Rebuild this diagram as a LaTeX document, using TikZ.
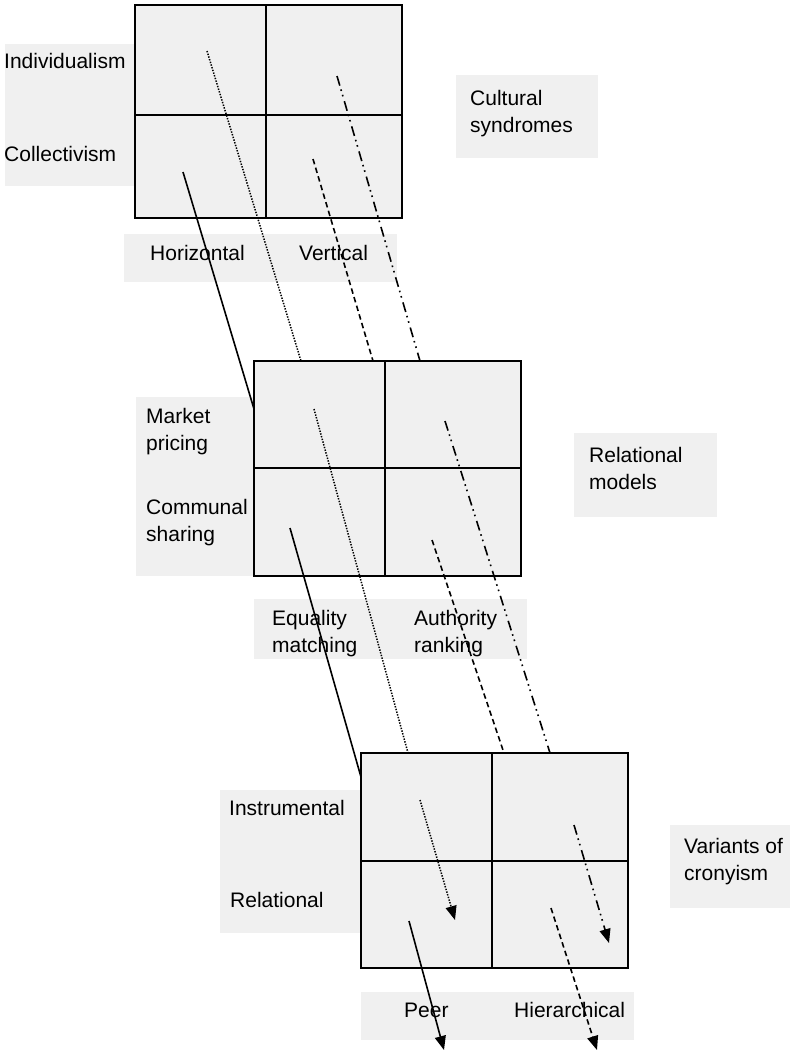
\documentclass[tikz,border=0pt]{standalone}
\usepackage{fontspec}
\setmainfont{Liberation Sans}
\usetikzlibrary{arrows.meta}
\definecolor{bg}{HTML}{F0F0F0}
\begin{document}
\begin{tikzpicture}[x=1pt,y=-1pt,
  lbl/.style={font=\fontsize{21}{27}\selectfont, inner sep=0pt, anchor=base west},
  shade/.style={fill=bg},
  gridbox/.style={draw, line width=2pt, fill=bg},
  divider/.style={line width=2pt},
  solidc/.style={line width=1.6pt},
  dotc/.style={line width=1.5pt, dash pattern=on 1.4pt off 1.4pt},
  dashc/.style={line width=1.6pt, dash pattern=on 5.5pt off 3.5pt},
  dashdotc/.style={line width=1.6pt, dash pattern=on 10pt off 4pt on 1.6pt off 4pt on 1.6pt off 5pt},
  arr/.style={-{Triangle[length=14pt,width=11pt]}}]
\useasboundingbox (0,0) rectangle (805,1052);

% label backgrounds
\fill[shade] (5,44) rectangle (135,186);
\fill[shade] (124,234) rectangle (397,282);
\fill[shade] (456,75) rectangle (598,158);
\fill[shade] (136,397) rectangle (254,576);
\fill[shade] (254,599) rectangle (527,659);
\fill[shade] (574,433) rectangle (717,517);
\fill[shade] (220,790) rectangle (361,933);
\fill[shade] (361,992) rectangle (634,1040);
\fill[shade] (670,825) rectangle (790,908);

% grids
\draw[gridbox] (135,5) rectangle (402,218);
\draw[divider] (266,5) -- (266,218) (135,115) -- (402,115);
\draw[gridbox] (254,361) rectangle (521,576);
\draw[divider] (385,361) -- (385,576) (254,468) -- (521,468);
\draw[gridbox] (361,753) rectangle (628,968);
\draw[divider] (492,753) -- (492,968) (361,861) -- (628,861);

% texts
\node[lbl] (tInd) at (4,68) {Individualism};
\node[lbl] (tCol) at (4,161) {Collectivism};
\node[lbl] (tHor) at (150,260) {Horizontal};
\node[lbl] (tVer) at (299,260) {Vertical};
\node[lbl] (tCul1) at (470,105) {Cultural};
\node[lbl] (tCul2) at (470,132) {syndromes};

\node[lbl] (tMar1) at (146,423) {Market};
\node[lbl] (tMar2) at (146,450) {pricing};
\node[lbl] (tCom1) at (146,514) {Communal};
\node[lbl] (tCom2) at (146,541) {sharing};
\node[lbl] (tEq1) at (272,625) {Equality};
\node[lbl] (tEq2) at (272,652) {matching};
\node[lbl] (tAu1) at (414,625) {Authority};
\node[lbl] (tAu2) at (414,652) {ranking};
\node[lbl] (tRel1) at (589,462) {Relational};
\node[lbl] (tRel2) at (589,489) {models};

\node[lbl] (tIns) at (229,815) {Instrumental};
\node[lbl] (tRl) at (230,907) {Relational};
\node[lbl] (tPeer) at (404,1017) {Peer};
\node[lbl] (tHie) at (514,1017) {Hierarchical};
\node[lbl] (tVar1) at (684,853) {Variants of};
\node[lbl] (tVar2) at (684,880) {cronyism};

% connector end points
\coordinate (a1) at (207,51);  \coordinate (a2) at (301,361);
\coordinate (b1) at (183,172); \coordinate (b2) at (254,409);
\coordinate (c1) at (313,159); \coordinate (c2) at (373,361);
\coordinate (d1) at (337,76);  \coordinate (d2) at (420,361);

\coordinate (e1) at (314,409); \coordinate (e2) at (408,753);
\coordinate (f1) at (290,528); \coordinate (f2) at (361,777);
\coordinate (g1) at (432,540); \coordinate (g2) at (504,753);
\coordinate (h1) at (445,421); \coordinate (h2) at (550,753);

\coordinate (i1) at (420,800); \coordinate (i2) at (455,920);
\coordinate (j1) at (574,825); \coordinate (j2) at (609,943);
\coordinate (k1) at (409,921); \coordinate (k2) at (444,1050);
\coordinate (l1) at (551,908); \coordinate (l2) at (597,1050);

% connectors
\draw[dotc] (a1) -- (a2);
\draw[solidc] (b1) -- (b2);
\draw[dashc] (c1) -- (c2);
\draw[dashdotc] (d1) -- (d2);

\draw[dotc] (e1) -- (e2);
\draw[solidc] (f1) -- (f2);
\draw[dashc] (g1) -- (g2);
\draw[dashdotc] (h1) -- (h2);

\draw[dotc,arr] (i1) -- (i2);
\draw[dashdotc,arr] (j1) -- (j2);
\draw[solidc,arr] (k1) -- (k2);
\draw[dashc,arr] (l1) -- (l2);
\end{tikzpicture}
\end{document}
